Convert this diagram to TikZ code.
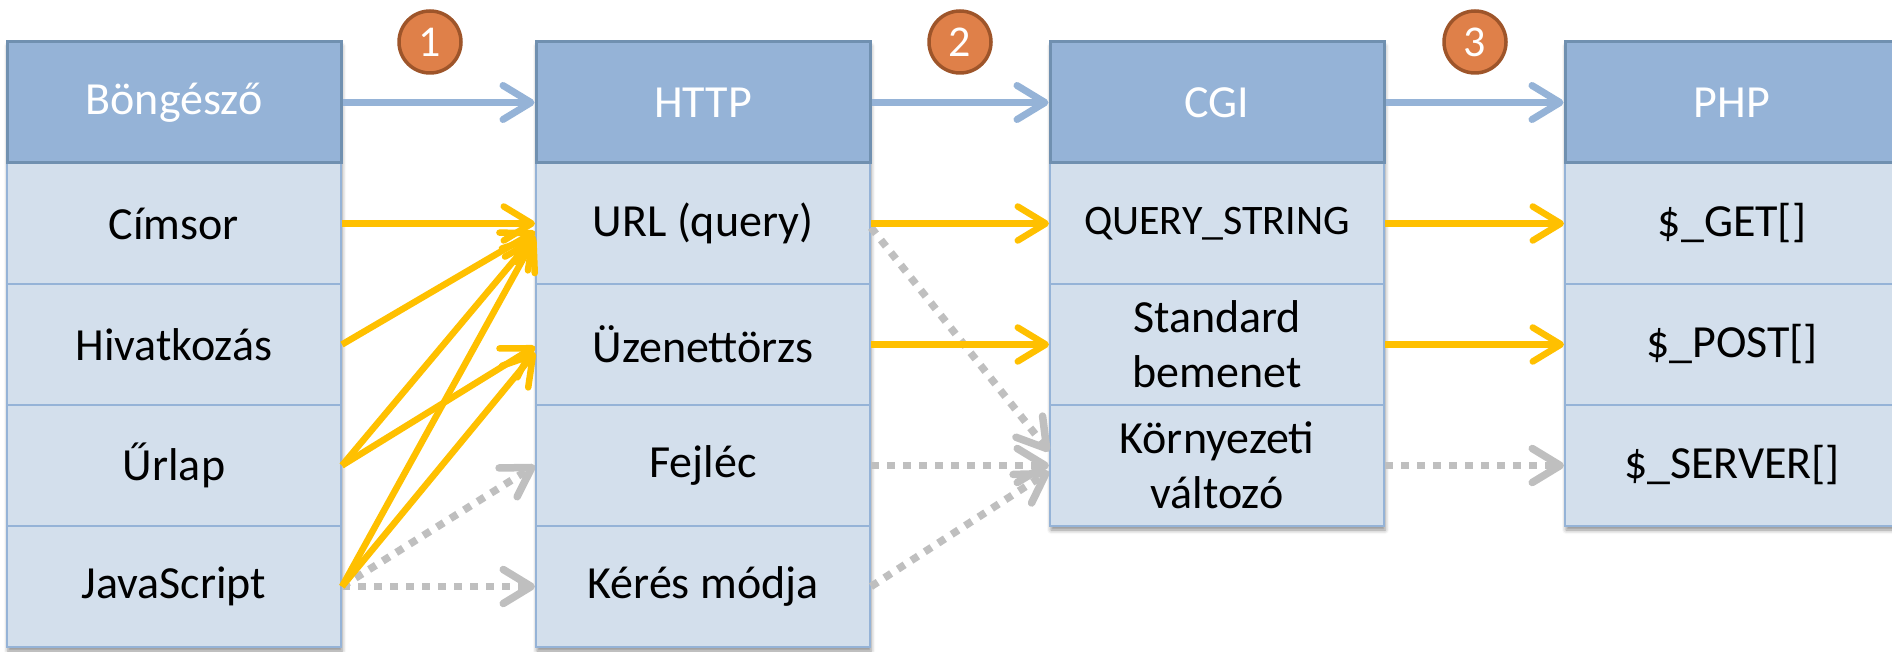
\documentclass[tikz,border=0pt]{standalone}
\usepackage{fontspec}
\setmainfont{Carlito}
\usetikzlibrary{arrows.meta,shadows.blur}
\definecolor{hdrfill}{HTML}{95B3D7}
\definecolor{hdrline}{HTML}{7090B0}
\definecolor{rowfill}{HTML}{D3DFEC}
\definecolor{rowline}{HTML}{95B3D7}
\definecolor{flowblue}{HTML}{95B3D7}
\definecolor{flowyellow}{HTML}{FFC000}
\definecolor{flowgray}{HTML}{BFBFBF}
\definecolor{badgefill}{HTML}{DF8049}
\definecolor{badgeline}{HTML}{9E552A}
\begin{document}
\begin{tikzpicture}[x=1pt,y=-1pt,
  cell/.style={draw=rowline, line width=2pt, fill=rowfill,
    minimum width=334pt, minimum height=121pt, inner sep=0pt,
    align=center, font=\fontsize{46}{55}\selectfont},
  hdr/.style={cell, draw=hdrline, line width=3pt, fill=hdrfill, text=white},
  colshadow/.style={fill=rowfill, blur shadow={shadow xshift=1pt,
    shadow yshift=-4pt, shadow blur radius=4pt, shadow opacity=45}},
  badge/.style={circle, fill=badgefill, draw=badgeline, line width=3.5pt,
    minimum size=62pt, inner sep=0pt, text=white,
    font=\fontsize{44}{44}\selectfont},
  tip/.style={-{Straight Barb[length=28pt,width=34pt,round]}},
  bluearrow/.style={tip, draw=flowblue, line width=7pt},
  yellowarrow/.style={tip, draw=flowyellow, line width=6.5pt},
  grayarrow/.style={tip, draw=flowgray, line width=7.5pt,
    dash pattern=on 8pt off 8pt}
]
\useasboundingbox (0,0) rectangle (1892,652);
\clip (0,0) rectangle (1892,652);

% column shadows
\path[colshadow] (7,42) rectangle (341,647);
\path[colshadow] (536,42) rectangle (870,647);
\path[colshadow] (1050,42) rectangle (1384,526);
\path[colshadow] (1565,42) rectangle (1899,526);

% Böngésző
\node[cell] (b1) at (174,223.5) {Címsor};
\node[cell] (b2) at (174,344.5) {Hivatkozás};
\node[cell] (b3) at (174,465.5) {Űrlap};
\node[cell] (b4) at (174,586.5) {JavaScript};
\node[hdr]  (b0) at (174,102.5) {Böngésző};

% HTTP
\node[cell] (h1) at (703,223.5) {URL (query)};
\node[cell] (h2) at (703,344.5) {Üzenettörzs};
\node[cell] (h3) at (703,465.5) {Fejléc};
\node[cell] (h4) at (703,586.5) {Kérés módja};
\node[hdr]  (h0) at (703,102.5) {HTTP};

% CGI
\node[cell, font=\fontsize{42}{50}\selectfont] (c1) at (1217,223.5) {QUERY\_STRING};
\node[cell] (c2) at (1217,344.5) {Standard\\bemenet};
\node[cell] (c3) at (1217,465.5) {Környezeti\\változó};
\node[hdr]  (c0) at (1217,102.5) {CGI};

% PHP
\node[cell] (p1) at (1732,223.5) {\$\_GET[]};
\node[cell] (p2) at (1732,344.5) {\$\_POST[]};
\node[cell] (p3) at (1732,465.5) {\$\_SERVER[]};
\node[hdr]  (p0) at (1732,102.5) {PHP};

% step numbers
\node[badge] (n1) at (430,42) {1};
\node[badge] (n2) at (960,42) {2};
\node[badge] (n3) at (1475,42) {3};

% main flow between the layers
\draw[bluearrow] (b0.east) -- (h0.west);
\draw[bluearrow] (h0.east) -- (c0.west);
\draw[bluearrow] (c0.east) -- (p0.west);

% indirect routes
\draw[grayarrow] (b4.east) -- (h3.west);
\draw[grayarrow] (b4.east) -- (h4.west);
\draw[grayarrow] ([yshift=-4pt]h1.east) -- ([yshift=14pt]c3.west);
\draw[grayarrow] (h3.east) -- (c3.west);
\draw[grayarrow] (h4.east) -- ([yshift=-6pt]c3.west);
\draw[grayarrow] (c3.east) -- (p3.west);

% data routes
\draw[yellowarrow] (b1.east) -- (h1.west);
\draw[yellowarrow] (b2.east) -- ([yshift=-8pt]h1.west);
\draw[yellowarrow] (b3.east) -- ([yshift=-12pt]h1.west);
\draw[yellowarrow] (b3.east) -- ([yshift=-2pt]h2.west);
\draw[yellowarrow] (b4.east) -- ([yshift=-14pt]h1.west);
\draw[yellowarrow] (b4.east) -- ([yshift=-8pt]h2.west);
\draw[yellowarrow] (h1.east) -- (c1.west);
\draw[yellowarrow] (h2.east) -- (c2.west);
\draw[yellowarrow] (c1.east) -- (p1.west);
\draw[yellowarrow] (c2.east) -- (p2.west);
\end{tikzpicture}
\end{document}
